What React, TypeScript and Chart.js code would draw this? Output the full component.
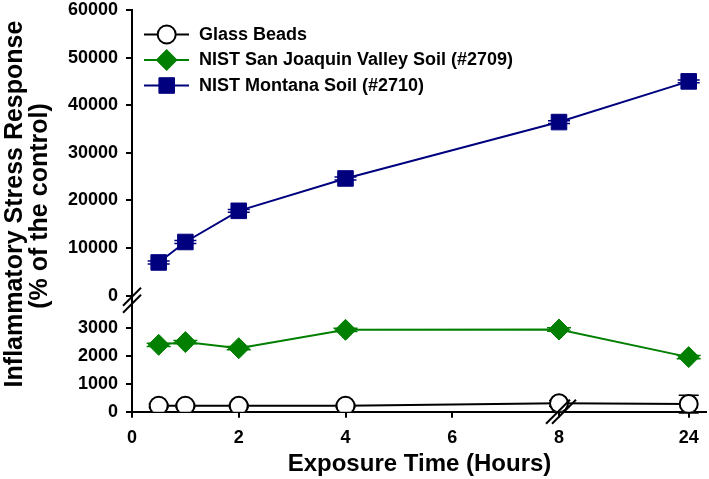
import React, { useEffect, useRef } from 'react';
import { Chart, registerables } from 'chart.js';

Chart.register(...registerables);

// ---------- data ----------
const hours = [0.5, 1, 2, 4, 8, 24];
const glassBeads = [215, 215, 210, 215, 300, 275];
const sanJoaquin = [2400, 2500, 2280, 2940, 2950, 1960];
const montana = [6950, 11250, 17800, 24600, 36450, 45000];
const glassErr = [60, 60, 60, 60, 100, 320];
const sanJoaquinErr = [60, 60, 60, 60, 60, 60];
const montanaErr = [300, 300, 300, 300, 300, 300];
const xTickHours = [0, 2, 4, 6, 8, 24];
const topTicks = [0, 10000, 20000, 30000, 40000, 50000, 60000];
const bottomTicks = [0, 1000, 2000, 3000];
const seriesLabels = [
  'Glass Beads',
  'NIST San Joaquin Valley Soil (#2709)',
  'NIST Montana Soil (#2710)',
];
const xTitle = 'Exposure Time (Hours)';
const yTitleLines = ['Inflammatory Stress Response', '(% of the control)'];

// ---------- broken x axis mapping ----------
const BREAK_HOUR = 8;
const AFTER_BREAK = 2.43 / 16;
const hourToPos = (h: number) => (h <= BREAK_HOUR ? h : BREAK_HOUR + (h - BREAK_HOUR) * AFTER_BREAK);
const posToHour = (p: number) => (p <= BREAK_HOUR ? p : BREAK_HOUR + (p - BREAK_HOUR) / AFTER_BREAK);

const FONT = "'Liberation Sans', Arial, Helvetica, sans-serif";
const BLACK = '#000000';
const GREEN = '#007f00';
const NAVY = '#00007f';

const toPoints = (vals: number[]) => vals.map((v, i) => ({ x: hourToPos(hours[i]), y: v }));

function drawMarker(ctx: CanvasRenderingContext2D, style: string, x: number, y: number, r: number, fill: string, stroke: string) {
  ctx.save();
  ctx.beginPath();
  if (style === 'circle') {
    ctx.arc(x, y, r, 0, Math.PI * 2);
  } else if (style === 'rectRot') {
    ctx.moveTo(x - r, y);
    ctx.lineTo(x, y - r);
    ctx.lineTo(x + r, y);
    ctx.lineTo(x, y + r);
    ctx.closePath();
  } else {
    const s = Math.SQRT1_2 * r;
    ctx.rect(x - s, y - s, 2 * s, 2 * s);
  }
  ctx.fillStyle = fill;
  ctx.fill();
  ctx.lineWidth = style === 'circle' ? 2 : 1;
  ctx.strokeStyle = stroke;
  ctx.stroke();
  ctx.restore();
}

const seriesStyles = [
  { style: 'circle', r: 9, fill: '#ffffff', stroke: BLACK, cap: 10 },
  { style: 'rectRot', r: 10.5, fill: GREEN, stroke: GREEN, cap: 12 },
  { style: 'rect', r: 11, fill: NAVY, stroke: NAVY, cap: 11 },
];
const seriesErrors = [glassErr, sanJoaquinErr, montanaErr];

const decorations = {
  id: 'decorations',
  beforeDatasetsDraw(chart: any) {
    const ctx = chart.ctx as CanvasRenderingContext2D;
    chart.data.datasets.forEach((ds: any, di: number) => {
      const yScale = chart.scales[ds.yAxisID];
      const xScale = chart.scales.x;
      const errs = seriesErrors[di];
      const cap = seriesStyles[di].cap;
      ctx.save();
      ctx.strokeStyle = seriesStyles[di].stroke;
      ctx.lineWidth = 1.5;
      ds.data.forEach((p: any, i: number) => {
        const px = xScale.getPixelForValue(p.x);
        const yHi = yScale.getPixelForValue(p.y + errs[i]);
        const yLo = yScale.getPixelForValue(p.y - errs[i]);
        ctx.beginPath();
        ctx.moveTo(px, yHi);
        ctx.lineTo(px, yLo);
        ctx.moveTo(px - cap, yHi);
        ctx.lineTo(px + cap, yHi);
        ctx.moveTo(px - cap, yLo);
        ctx.lineTo(px + cap, yLo);
        ctx.stroke();
      });
      ctx.restore();
    });
  },
  afterDraw(chart: any) {
    const ctx = chart.ctx as CanvasRenderingContext2D;
    const area = chart.chartArea;
    const xScale = chart.scales.x;
    const yTop = chart.scales.yTop;

    // y-axis break marks
    const by = yTop.bottom;
    const bx = area.left;
    ctx.save();
    ctx.strokeStyle = BLACK;
    ctx.lineWidth = 2;
    [-3.5, 3.5].forEach((off) => {
      ctx.beginPath();
      ctx.moveTo(bx - 9, by + off + 9);
      ctx.lineTo(bx + 9, by + off - 9);
      ctx.stroke();
    });
    // x-axis break marks
    const xb = xScale.getPixelForValue(BREAK_HOUR) + 2;
    const yb = area.bottom;
    [-3, 3].forEach((off) => {
      ctx.beginPath();
      ctx.moveTo(xb + off - 12, yb + 12);
      ctx.lineTo(xb + off + 12, yb - 12);
      ctx.stroke();
    });
    ctx.restore();

    // legend
    const rows = [34.5, 60, 85.5];
    ctx.save();
    rows.forEach((ry, i) => {
      const st = seriesStyles[i];
      ctx.beginPath();
      ctx.strokeStyle = st.stroke;
      ctx.lineWidth = 2;
      ctx.moveTo(144, ry);
      ctx.lineTo(189, ry);
      ctx.stroke();
      drawMarker(ctx, st.style, 166.7, ry, st.r, st.fill, st.stroke);
      ctx.fillStyle = BLACK;
      ctx.font = `bold 18px ${FONT}`;
      ctx.textAlign = 'left';
      ctx.textBaseline = 'middle';
      ctx.fillText(seriesLabels[i], 199, ry + 0.5);
    });
    ctx.restore();

    // axis titles
    ctx.save();
    ctx.fillStyle = BLACK;
    ctx.font = `bold 24px ${FONT}`;
    ctx.textAlign = 'center';
    ctx.textBaseline = 'alphabetic';
    ctx.fillText(xTitle, 419.5, 471);
    ctx.font = `bold 25px ${FONT}`;
    ctx.save();
    ctx.translate(22, 204);
    ctx.rotate(-Math.PI / 2);
    ctx.fillText(yTitleLines[0], 0, 0);
    ctx.restore();
    ctx.save();
    ctx.translate(47, 206);
    ctx.rotate(-Math.PI / 2);
    ctx.fillText(yTitleLines[1], 0, 0);
    ctx.restore();
    ctx.restore();
  },
};

const tickFont = { family: FONT, size: 18, weight: 'bold' as const };
const axisGrid = { display: true, drawOnChartArea: false, drawTicks: true, tickLength: 6, color: BLACK, lineWidth: 2 };
const axisBorder = { display: true, color: BLACK, width: 2 };

const yFit = (s: any) => {
  s.width = 132;
  s.paddingTop = 0;
  s.paddingBottom = 0;
};

export default function App() {
  const canvasRef = useRef<HTMLCanvasElement | null>(null);

  useEffect(() => {
    const canvas = canvasRef.current;
    if (!canvas) return;
    const chart = new Chart(canvas, {
      type: 'line',
      data: {
        datasets: [
          {
            label: seriesLabels[0],
            data: toPoints(glassBeads),
            yAxisID: 'yBot',
            borderColor: BLACK,
            borderWidth: 2,
            pointStyle: 'circle',
            pointRadius: 9,
            pointBackgroundColor: '#ffffff',
            pointBorderColor: BLACK,
            pointBorderWidth: 2,
            tension: 0,
          },
          {
            label: seriesLabels[1],
            data: toPoints(sanJoaquin),
            yAxisID: 'yBot',
            borderColor: GREEN,
            borderWidth: 2,
            pointStyle: 'rectRot',
            pointRadius: 10.5,
            pointBackgroundColor: GREEN,
            pointBorderColor: GREEN,
            pointBorderWidth: 1,
            tension: 0,
          },
          {
            label: seriesLabels[2],
            data: toPoints(montana),
            yAxisID: 'yTop',
            borderColor: NAVY,
            borderWidth: 2,
            pointStyle: 'rect',
            pointRadius: 11,
            pointBackgroundColor: NAVY,
            pointBorderColor: NAVY,
            pointBorderWidth: 1,
            tension: 0,
          },
        ],
      },
      options: {
        responsive: false,
        animation: false,
        devicePixelRatio: 1,
        layout: { autoPadding: false, padding: { top: 10, right: 3, left: 0, bottom: 0 } },
        plugins: { legend: { display: false }, tooltip: { enabled: false } },
        elements: { line: { fill: false } },
        scales: {
          x: {
            type: 'linear',
            min: 0,
            max: 10.754,
            afterBuildTicks: (s: any) => {
              s.ticks = xTickHours.map((h) => ({ value: hourToPos(h) }));
            },
            afterFit: (s: any) => {
              s.height = 67.3;
              s.paddingLeft = 0;
              s.paddingRight = 0;
            },
            ticks: {
              autoSkip: false,
              maxRotation: 0,
              color: BLACK,
              font: tickFont,
              padding: 10,
              callback: (v: any) => String(Math.round(posToHour(Number(v)))),
            },
            grid: axisGrid,
            border: axisBorder,
          },
          yBot: {
            type: 'linear',
            position: 'left',
            stack: 'ybroken',
            stackWeight: 111.2,
            min: 0,
            max: 4000,
            afterBuildTicks: (s: any) => {
              s.ticks = bottomTicks.map((v) => ({ value: v }));
            },
            afterFit: yFit,
            ticks: { autoSkip: false, color: BLACK, font: tickFont, padding: 8, callback: (v: any) => String(v) },
            grid: axisGrid,
            border: axisBorder,
          },
          yTop: {
            type: 'linear',
            position: 'left',
            stack: 'ybroken',
            stackWeight: 289.75,
            min: -1000,
            max: 60000,
            afterBuildTicks: (s: any) => {
              s.ticks = topTicks.map((v) => ({ value: v }));
            },
            afterFit: yFit,
            ticks: { autoSkip: false, color: BLACK, font: tickFont, padding: 8, callback: (v: any) => String(v) },
            grid: axisGrid,
            border: axisBorder,
          },
        },
      } as any,
      plugins: [decorations],
    });
    return () => chart.destroy();
  }, []);

  return (
    <div style={{ position: 'fixed', left: 0, top: 0, width: 709, height: 479, background: '#ffffff' }}>
      <canvas ref={canvasRef} width={709} height={479} style={{ width: 709, height: 479, display: 'block' }} />
    </div>
  );
}
